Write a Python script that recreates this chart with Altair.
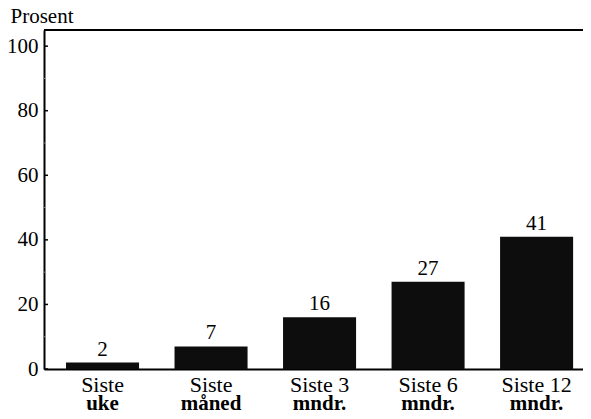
import altair as alt
import pandas as pd

keys = ["Siste uke", "Siste måned", "Siste 3 mndr.", "Siste 6 mndr.", "Siste 12 mndr."]
line1 = ["Siste", "Siste", "Siste 3", "Siste 6", "Siste 12"]
line2 = ["uke", "måned", "mndr.", "mndr.", "mndr."]
values = [2, 7, 16, 27, 41]
major_ticks = [0, 20, 40, 60, 80, 100]
minor_ticks = [10, 30, 50, 70, 90]

df = pd.DataFrame({"key": keys, "l1": line1, "l2": line2, "v": values})
ticks_df = pd.DataFrame({"t": major_ticks})
minor_df = pd.DataFrame({"t": minor_ticks})

W, H = 539, 339
FONT = "Times New Roman, Liberation Serif, DejaVu Serif, serif"

xs = alt.X("key:N", sort=keys,
           scale=alt.Scale(paddingInner=0.327, paddingOuter=0.147, align=0.69),
           axis=alt.Axis(labels=False, ticks=False, title=None, domain=True,
                         domainColor="black", domainWidth=2))
ys = alt.Y("v:Q", scale=alt.Scale(domain=[0, 105], nice=False, zero=True),
           axis=alt.Axis(values=major_ticks, ticks=False, grid=False, domain=True,
                         domainColor="black", domainWidth=2,
                         labelFont=FONT, labelFontSize=21, labelColor="black",
                         labelPadding=6, title="Prosent", titleAngle=0,
                         titleAlign="left", titleBaseline="alphabetic",
                         titleX=-34, titleY=-8, titleFont=FONT, titleFontSize=21,
                         titleFontWeight="normal", titleColor="black"))

base = alt.Chart(df)

bars = base.mark_bar(color="#0d0d0d").encode(x=xs, y=ys)

vals = base.mark_text(font=FONT, fontSize=21, baseline="alphabetic", dy=-7,
                      color="black").encode(x=alt.X("key:N", sort=keys), y="v:Q",
                                            text="v:Q")

lab1 = base.mark_text(font=FONT, fontSize=22, baseline="alphabetic",
                      color="black").encode(
    x=alt.X("key:N", sort=keys), y=alt.value(362), text="l1:N")
lab2 = base.mark_text(font=FONT, fontSize=21, fontWeight="bold",
                      baseline="alphabetic", color="black").encode(
    x=alt.X("key:N", sort=keys), y=alt.value(380), text="l2:N")

top_line = base.mark_rule(color="black", strokeWidth=2).encode(
    x=alt.value(0), x2=alt.value(W), y=alt.value(0))

tick_marks = alt.Chart(ticks_df).mark_rule(color="black", strokeWidth=1.5).encode(
    y=alt.Y("t:Q"), x=alt.value(0), x2=alt.value(4))
minor_marks = alt.Chart(minor_df).mark_rule(color="#888888", strokeWidth=1).encode(
    y=alt.Y("t:Q"), x=alt.value(0), x2=alt.value(2))

chart = alt.layer(bars, vals, lab1, lab2, top_line, tick_marks, minor_marks).properties(
    width=W, height=H,
    autosize=alt.AutoSizeParams(type="none"),
    padding={"left": 36, "top": 22, "right": 0, "bottom": 42},
).configure_view(stroke=None).configure(background="white", font=FONT)

chart.save("out.html", embed_options={"renderer": "svg", "actions": False})
